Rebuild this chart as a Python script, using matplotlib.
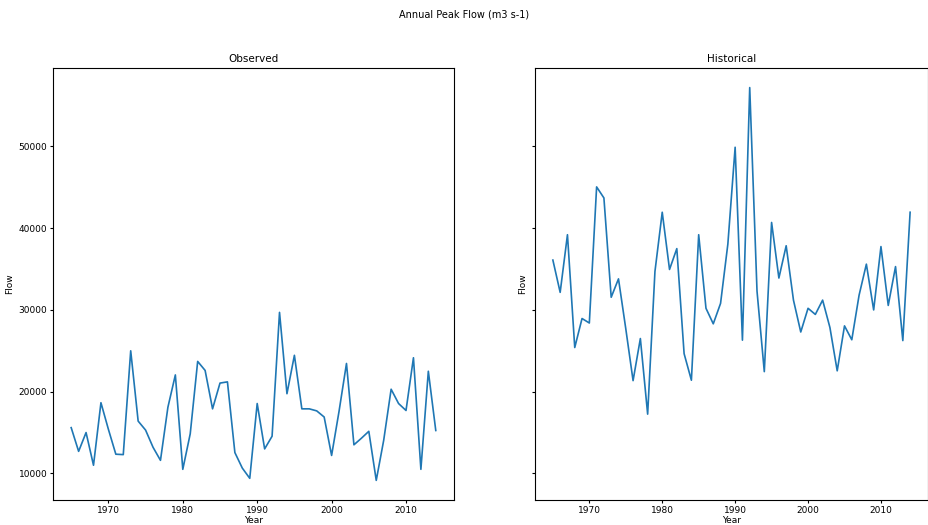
import matplotlib
matplotlib.use("Agg")
import matplotlib.pyplot as plt

plt.rcParams['font.size'] = 7

years = list(range(1965, 2015))

observed = [15600, 12700, 15000, 11000, 18650, 15400, 12350, 12300, 25000, 16400,
            15300, 13200, 11600, 18100, 22050, 10500, 14850, 23700, 22600, 17900,
            21050, 21200, 12550, 10650, 9400, 18550, 13000, 14550, 29700, 19750,
            24450, 17900, 17900, 17650, 16900, 12200, 17600, 23450, 13500, 14300,
            15150, 9150, 14050, 20300, 18550, 17700, 24150, 10500, 22500, 15250]

historical = [36100, 32150, 39200, 25400, 28950, 28400, 45050, 43700, 31550, 33800,
              27700, 21350, 26500, 17250, 34700, 41950, 34950, 37500, 24650, 21400,
              39200, 30200, 28300, 30800, 38050, 49900, 26300, 57200, 32300, 22450,
              40700, 33900, 37850, 31200, 27300, 30200, 29450, 31200, 27850, 22550,
              28050, 26350, 31800, 35600, 30000, 37750, 30550, 35300, 26250, 41950]

fig = plt.figure(figsize=(9.29, 5.25), dpi=100)
ax1 = fig.add_axes([0.057, 0.0476, 0.4317, 0.823])
ax2 = fig.add_axes([0.5759, 0.0476, 0.423, 0.823], sharey=ax1)

ax1.plot(years, observed, lw=1.2)
ax2.plot(years, historical, lw=1.2)

ax1.set_title("Observed", fontsize=7.5, pad=4)
ax2.set_title("Historical", fontsize=7.5, pad=4)
for ax in (ax1, ax2):
    ax.set_xlabel("Year", fontsize=6.5, labelpad=1)
    ax.set_ylabel("Flow", fontsize=6.5, labelpad=3)
    ax.tick_params(labelsize=6.5, length=2.5, pad=1.5)
ax2.tick_params(labelleft=False)

fig.suptitle("Annual Peak Flow (m3 s-1)", fontsize=7, y=0.982)

fig.savefig("out.png", dpi=100)
